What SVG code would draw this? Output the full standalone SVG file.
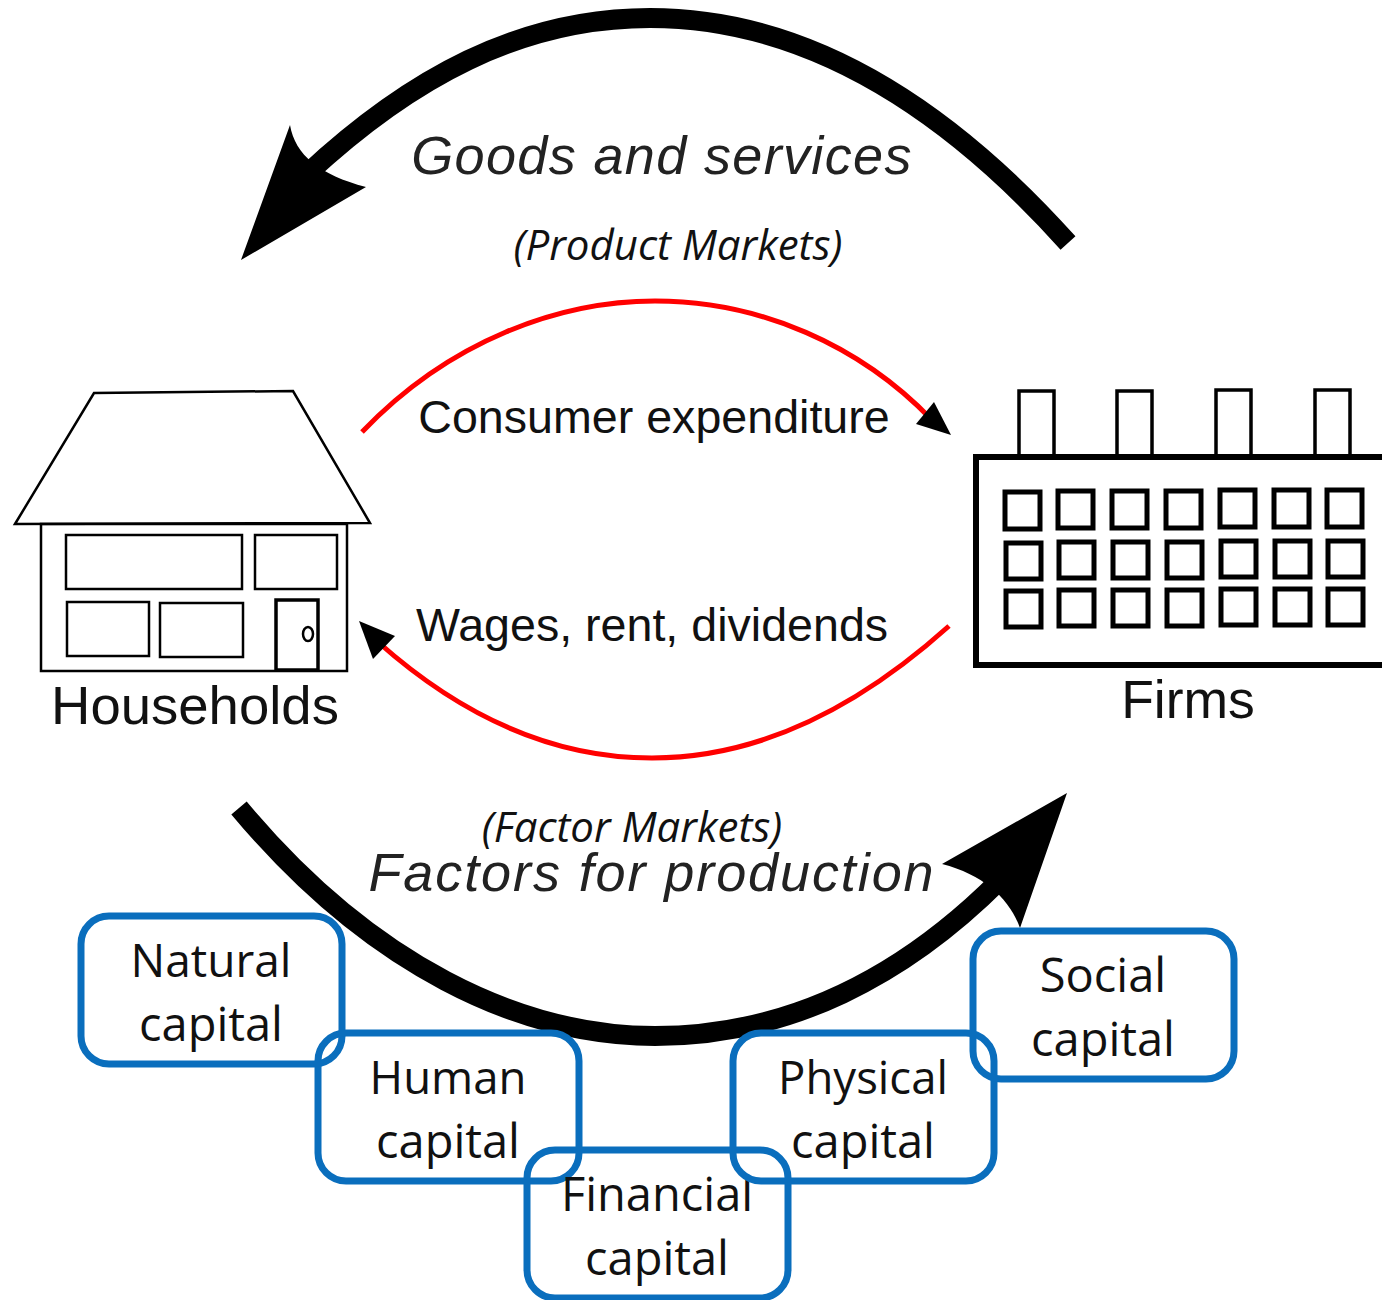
<svg xmlns="http://www.w3.org/2000/svg" width="1382" height="1300" viewBox="0 0 1382 1300">
<style>
.o{fill:none;stroke:#000;stroke-width:2.5}
.w{fill:none;stroke:#000;stroke-width:5}
.r{fill:none;stroke:#f00;stroke-width:5}
.b{fill:#fff;fill-opacity:0;stroke:#0a6ebd;stroke-width:7}
.t{font-family:"Liberation Sans",Arial,sans-serif;fill:#111}
.c{font-family:"Open Sans","Noto Sans",sans-serif;font-size:47px;fill:#111;text-anchor:middle}
.i{font-family:"Open Sans","Noto Sans",sans-serif;font-style:italic;font-weight:500;font-size:42px;fill:#111;text-anchor:middle}
.g{font-family:"Liberation Sans",Arial,sans-serif;font-style:italic;font-size:54px;fill:#222;text-anchor:middle}
</style>
<g id="connectors">
<path d="M1068 243C920 78 780 18 650 18C520 18 410 78 306 175" fill="none" stroke="#000" stroke-width="20"/>
<path d="M241 260L290 125C295 155 320 175 366 187Z" fill="#000"/>
<path d="M239 808C370 965 520 1036 655 1036C790 1036 905 975 1000 880" fill="none" stroke="#000" stroke-width="20"/>
<path d="M1067 793L1020 928C1010 900 985 875 942 864Z" fill="#000"/>
<path class="r" d="M362 432C450 340 560 301 655 301C760 301 860 345 932 420"/>
<path d="M951 435L916 424L934 402Z" fill="#000"/>
<path class="r" d="M949 626C850 715 750 758 652 758C550 758 460 715 378 642"/>
<path d="M359 621L395 636L373 659Z" fill="#000"/>
</g>
<g id="households">
<path class="o" d="M15 524L94 393L293 391L370 523Z"/>
<rect class="o" x="41" y="524" width="306" height="147"/>
<rect class="o" x="66" y="535" width="176" height="54"/>
<rect class="o" x="255" y="535" width="82" height="54"/>
<rect class="o" x="67" y="602" width="82" height="54"/>
<rect class="o" x="160" y="603" width="83" height="54"/>
<rect class="w" x="276" y="600" width="42" height="70" style="stroke-width:3.5"/>
<ellipse class="o" cx="308" cy="634" rx="5" ry="7"/>
<text class="t" x="195" y="724" font-size="54.5" text-anchor="middle">Households</text>
</g>
<g id="firms">
<rect class="w" x="976" y="457" width="420" height="208" style="stroke-width:6"/>
<path class="o" style="stroke-width:3.5" d="M1019 456V391H1054V456M1117 456V391H1152V456M1216 456V390H1251V456M1315 456V390H1350V456"/>
<g class="w">
<rect class="w" x="1005" y="492" width="35" height="37"/><rect class="w" x="1058" y="491" width="35" height="37"/><rect class="w" x="1112" y="491" width="35" height="37"/><rect class="w" x="1166" y="491" width="35" height="37"/><rect class="w" x="1220" y="490" width="35" height="37"/><rect class="w" x="1274" y="490" width="35" height="37"/><rect class="w" x="1327" y="490" width="35" height="37"/>
<rect class="w" x="1006" y="543" width="35" height="36"/><rect class="w" x="1059" y="542" width="35" height="36"/><rect class="w" x="1113" y="542" width="35" height="36"/><rect class="w" x="1167" y="542" width="35" height="36"/><rect class="w" x="1221" y="541" width="35" height="36"/><rect class="w" x="1275" y="541" width="35" height="36"/><rect class="w" x="1328" y="541" width="35" height="36"/>
<rect class="w" x="1006" y="591" width="35" height="36"/><rect class="w" x="1059" y="590" width="35" height="36"/><rect class="w" x="1113" y="590" width="35" height="36"/><rect class="w" x="1167" y="590" width="35" height="36"/><rect class="w" x="1221" y="589" width="35" height="36"/><rect class="w" x="1275" y="589" width="35" height="36"/><rect class="w" x="1328" y="589" width="35" height="36"/>
</g>
<text class="t" x="1188" y="718" font-size="53.5" text-anchor="middle">Firms</text>
</g>
<g id="labels">
<text class="g" x="662" y="174" letter-spacing="1.35">Goods and services</text>
<text class="i" x="678" y="260">(Product Markets)</text>
<text class="t" x="654" y="433" font-size="46.6" text-anchor="middle">Consumer expenditure</text>
<text class="t" x="652" y="641" font-size="46.6" text-anchor="middle">Wages, rent, dividends</text>
<text class="i" x="632" y="842">(Factor Markets)</text>
<text class="g" x="652" y="891" letter-spacing="1.9">Factors for production</text>
</g>
<g id="natural"><rect class="b" x="81" y="916" width="261" height="148" rx="28"/><text class="c" x="211" y="977" style="font-size:46px">Natural</text><text class="c" x="211" y="1041">capital</text></g>
<g id="human"><rect class="b" x="318" y="1033" width="261" height="148" rx="28"/><text class="c" x="448" y="1094" style="font-size:45.5px">Human</text><text class="c" x="448" y="1158">capital</text></g>
<g id="financial"><rect class="b" x="527" y="1150" width="261" height="148" rx="28"/><text class="c" x="657" y="1211">Financial</text><text class="c" x="657" y="1275">capital</text></g>
<g id="physical"><rect class="b" x="733" y="1033" width="261" height="148" rx="28"/><text class="c" x="863" y="1094" style="font-size:45.5px">Physical</text><text class="c" x="863" y="1158">capital</text></g>
<g id="social"><rect class="b" x="973" y="931" width="261" height="148" rx="28"/><text class="c" x="1103" y="992">Social</text><text class="c" x="1103" y="1056">capital</text></g>
</svg>
